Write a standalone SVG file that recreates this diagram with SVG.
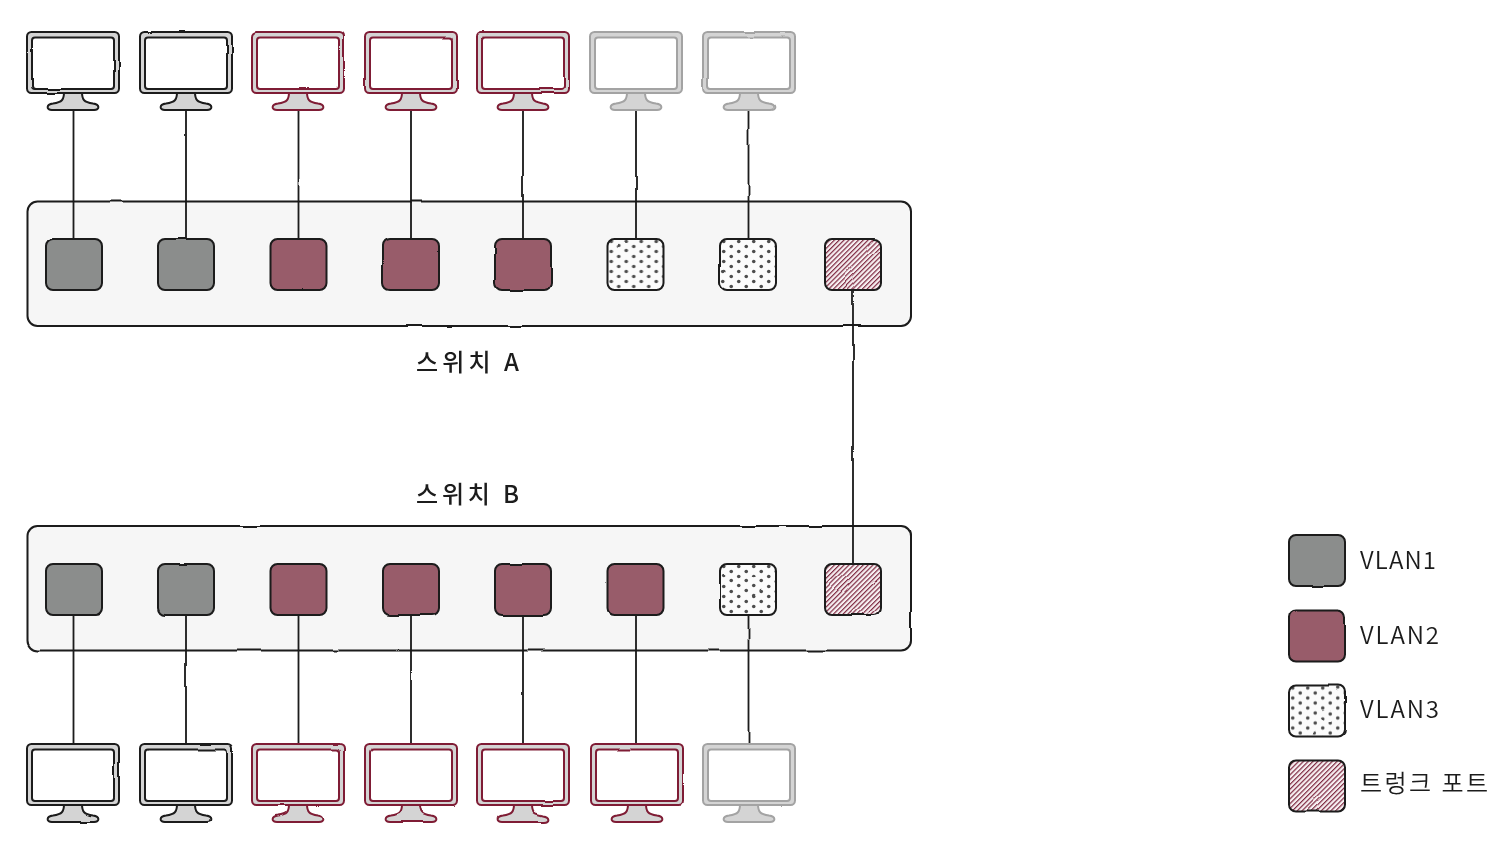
<svg xmlns="http://www.w3.org/2000/svg" width="1506" height="854" viewBox="0 0 1506 854">
<style>
text{font-family:"Noto Sans CJK KR","Noto Sans",sans-serif;font-size:24px;fill:#1a1a1a}
.lab{font-weight:500}
.leg{font-weight:350}
.sw{fill:#f6f6f6;stroke:#1a1a1a;stroke-width:2}
.wire{fill:none;stroke:#1a1a1a;stroke-width:1.800}
.port{stroke:#1a1a1a;stroke-width:2}
.v1{fill:#8b8d8c}.v2{fill:#985c6b}.v3{fill:url(#dots)}.tr{fill:url(#hatch)}
.mk{stroke:#1a1a1a}.mr{stroke:#7f1d35}.mg{stroke:#a3a3a3}
</style>
<defs>
<filter id="rough" x="-5%" y="-5%" width="110%" height="110%"><feTurbulence type="fractalNoise" baseFrequency="0.03" numOctaves="1" seed="7"/><feDisplacementMap in="SourceGraphic" scale="2.500" xChannelSelector="R" yChannelSelector="G"/><feGaussianBlur stdDeviation="0.45"/></filter>
<filter id="soft"><feGaussianBlur stdDeviation="0.3"/></filter>
<pattern id="dots" width="15" height="10" patternUnits="userSpaceOnUse"><rect width="15" height="10" fill="#fbfbfb"/><circle cx="3.750" cy="2.500" r="1.800" fill="#4d4d4d"/><circle cx="11.250" cy="7.500" r="1.800" fill="#4d4d4d"/></pattern>
<pattern id="hatch" width="3.400" height="3.400" patternUnits="userSpaceOnUse" patternTransform="rotate(-45)"><rect width="3.400" height="3.400" fill="#f7f0f2"/><rect width="3.400" height="1.200" fill="#7f2a42"/></pattern>
<g id="monitor" stroke-width="2" stroke-linejoin="round">
<path d="M-9 60C-9 68-11 70-20 71.500C-27 72.500-27 78-21 78H21C27 78 27 72.500 20 71.500C11 70 9 68 9 60Z" fill="#d4d4d4"/>
<rect x="-46" y="0" width="92" height="61" rx="4.500" fill="#d4d4d4"/>
<rect x="-41" y="5.500" width="82" height="51.500" rx="3" fill="#fff"/>
</g>
<rect id="p" x="0" y="0" width="56" height="51" rx="7"/>
</defs>

<g filter="url(#rough)">
<g id="switch-a"><rect class="sw" x="27.500" y="201.500" width="883.500" height="124.500" rx="10"/></g>
<g id="switch-b"><rect class="sw" x="27.500" y="526" width="883.500" height="124.500" rx="10"/></g>

<g id="connectors">
<path class="wire" d="M73.500 109V239M186 109V239M298.500 109V239M411 109V239M523 109V239M636 109V239M748.500 109V239"/>
<path class="wire" d="M853 290V564"/>
<path class="wire" d="M73.500 615V743M186 615V743M298.500 615V743M411 615V743M523 615V743M636 615V743M748.500 615V743"/>
</g>

<g id="ports-a">
<g id="a1"><use href="#p" class="port v1" x="46" y="239"/></g>
<g id="a2"><use href="#p" class="port v1" x="158" y="239"/></g>
<g id="a3"><use href="#p" class="port v2" x="270.500" y="239"/></g>
<g id="a4"><use href="#p" class="port v2" x="383" y="239"/></g>
<g id="a5"><use href="#p" class="port v2" x="495" y="239"/></g>
<g id="a6"><use href="#p" class="port v3" x="607.500" y="239"/></g>
<g id="a7"><use href="#p" class="port v3" x="720" y="239"/></g>
<g id="a8"><use href="#p" class="port tr" x="825" y="239"/></g>
</g>
<g id="ports-b">
<g id="b1"><use href="#p" class="port v1" x="46" y="564"/></g>
<g id="b2"><use href="#p" class="port v1" x="158" y="564"/></g>
<g id="b3"><use href="#p" class="port v2" x="270.500" y="564"/></g>
<g id="b4"><use href="#p" class="port v2" x="383" y="564"/></g>
<g id="b5"><use href="#p" class="port v2" x="495" y="564"/></g>
<g id="b6"><use href="#p" class="port v2" x="607.500" y="564"/></g>
<g id="b7"><use href="#p" class="port v3" x="720" y="564"/></g>
<g id="b8"><use href="#p" class="port tr" x="825" y="564"/></g>
</g>

<g id="pc-a1" class="mk"><use href="#monitor" x="73" y="32"/></g>
<g id="pc-a2" class="mk"><use href="#monitor" x="186" y="32"/></g>
<g id="pc-a3" class="mr"><use href="#monitor" x="298" y="32"/></g>
<g id="pc-a4" class="mr"><use href="#monitor" x="411" y="32"/></g>
<g id="pc-a5" class="mr"><use href="#monitor" x="523" y="32"/></g>
<g id="pc-a6" class="mg"><use href="#monitor" x="636" y="32"/></g>
<g id="pc-a7" class="mg"><use href="#monitor" x="749" y="32"/></g>
<g id="pc-b1" class="mk"><use href="#monitor" x="73" y="744"/></g>
<g id="pc-b2" class="mk"><use href="#monitor" x="186" y="744"/></g>
<g id="pc-b3" class="mr"><use href="#monitor" x="298" y="744"/></g>
<g id="pc-b4" class="mr"><use href="#monitor" x="411" y="744"/></g>
<g id="pc-b5" class="mr"><use href="#monitor" x="523" y="744"/></g>
<g id="pc-b6" class="mr"><use href="#monitor" x="637" y="744"/></g>
<g id="pc-b7" class="mg"><use href="#monitor" x="749" y="744"/></g>

<g id="legend-swatches">
<use href="#p" class="port v1" x="1289" y="535"/>
<use href="#p" class="port v2" x="1289" y="610.500"/>
<use href="#p" class="port v3" x="1289" y="685.500"/>
<use href="#p" class="port tr" x="1289" y="760.500"/>
</g>
</g>

<g id="labels" filter="url(#soft)">
<text class="lab" x="416" y="371" textLength="103" lengthAdjust="spacing">스위치 A</text>
<text class="lab" x="416" y="503" textLength="103" lengthAdjust="spacing">스위치 B</text>
<text class="leg" x="1360" y="569" textLength="76" lengthAdjust="spacing">VLAN1</text>
<text class="leg" x="1360" y="644" textLength="79" lengthAdjust="spacing">VLAN2</text>
<text class="leg" x="1360" y="718" textLength="79" lengthAdjust="spacing">VLAN3</text>
<text class="leg" x="1360" y="792" textLength="128" lengthAdjust="spacing">트렁크 포트</text>
</g>
</svg>
